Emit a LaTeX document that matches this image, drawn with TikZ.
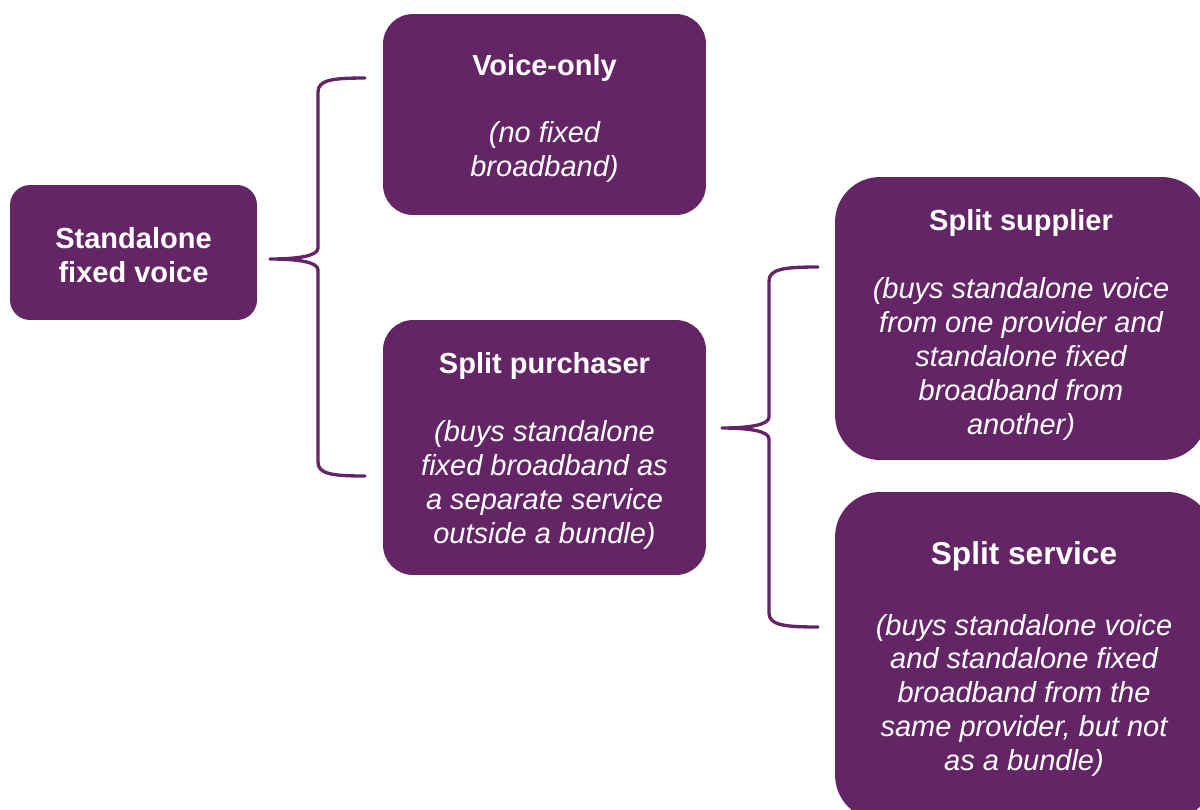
\documentclass[tikz,border=0pt]{standalone}
\usepackage{fontspec}
\setmainfont{Liberation Sans}
\usetikzlibrary{calc}
\definecolor{vpurple}{RGB}{99,37,102}
\begin{document}
\begin{tikzpicture}[x=0.02cm,y=-0.02cm,
  box/.style={fill=vpurple,inner sep=0pt},
  boxtext/.style={text=white,align=center,inner sep=0pt,
    font=\fontsize{16.5}{19.3}\selectfont\itshape},
  brace/.style={draw=vpurple,line width=1.9pt,line cap=round,line join=round}]
\clip (0,0) rectangle (1200,809);
% boxes
\node[box,minimum width=4.94cm,minimum height=2.7cm,rounded corners=0.4cm] (sfv) at (133.5,252.5) {};
\node[box,minimum width=6.46cm,minimum height=4.02cm,rounded corners=0.6cm] (vo) at (544.5,114.5) {};
\node[box,minimum width=6.46cm,minimum height=5.1cm,rounded corners=0.6cm] (sp) at (544.5,447.5) {};
\node[box,minimum width=7.44cm,minimum height=5.66cm,rounded corners=0.9cm] (ss) at (1021,318.5) {};
\node[box,minimum width=7.56cm,minimum height=6.56cm,rounded corners=0.9cm] (sv) at (1024,656) {};
% texts
\node[boxtext] (sfv-t) at ($(sfv.center)+(0,2.5)$)
  {\textup{\textbf{Standalone}}\\\textup{\textbf{fixed voice}}};
\node[boxtext] (vo-t) at ($(vo.center)+(0,4)$)
  {\textup{\textbf{Voice-only}}\\[19.3pt](no fixed\\broadband)};
\node[boxtext] (sp-t) at ($(sp.center)+(0,3.5)$)
  {\textup{\textbf{Split purchaser}}\\[19.3pt](buys standalone\\fixed broadband as\\a separate service\\outside a bundle)};
\node[boxtext] (ss-t) at ($(ss.center)+(0,6.5)$)
  {\textup{\textbf{Split supplier}}\\[19.3pt](buys standalone voice\\from one provider and\\standalone fixed\\broadband from\\another)};
\node[boxtext] (sv-t) at ($(sv.center)+(0,3)$)
  {\textup{\textbf{\fontsize{18}{21}\selectfont Split service}}\\[21pt](buys standalone voice\\and standalone fixed\\broadband from the\\same provider, but not\\as a bundle)};
% brace 1
\coordinate (b1tip) at (270,259);
\coordinate (b1top) at (365,78);
\coordinate (b1bot) at (365,476);
\draw[brace] (b1top) .. controls (332,78) and (318,80) .. (318,92)
  -- (318,248) .. controls (318,256) and (298,259) .. (b1tip)
  .. controls (298,259) and (318,262) .. (318,270)
  -- (318,462) .. controls (318,474) and (332,476) .. (b1bot);
% brace 2
\coordinate (b2tip) at (722,428);
\coordinate (b2top) at (818,267);
\coordinate (b2bot) at (818,627);
\draw[brace] (b2top) .. controls (784,267) and (769,269) .. (769,281)
  -- (769,417) .. controls (769,425) and (749,428) .. (b2tip)
  .. controls (749,428) and (769,431) .. (769,439)
  -- (769,613) .. controls (769,625) and (784,627) .. (b2bot);
\end{tikzpicture}
\end{document}
